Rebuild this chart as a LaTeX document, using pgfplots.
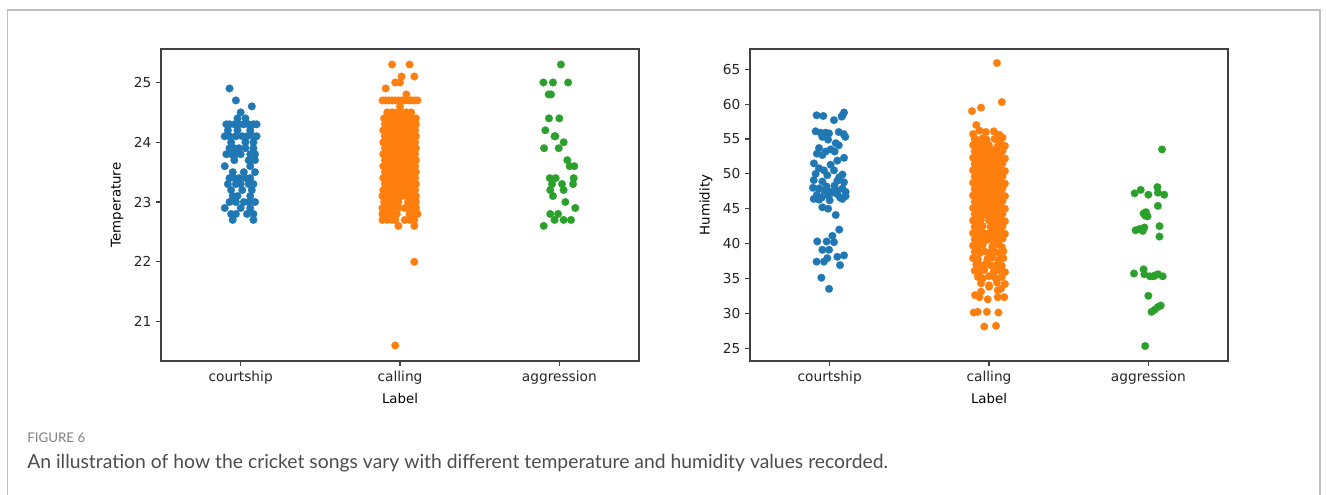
\documentclass[border=0pt]{standalone}
\usepackage{pgfplots}
\pgfplotsset{compat=1.18}
\usepackage{fontspec}
\setmainfont{DejaVu Sans}
\newfontfamily\capfont{Lato}
\definecolor{tabblue}{HTML}{1F77B4}
\definecolor{taborange}{HTML}{FF7F0E}
\definecolor{tabgreen}{HTML}{2CA02C}

\pgfplotsset{
  strip/.style={
    scale only axis, width=358.5pt, height=234pt, anchor=south west,
    xmin=-0.5, xmax=2.5,
    xtick={0,1,2}, xticklabels={courtship,calling,aggression},
    tick pos=left, tick align=outside, major tick length=3.7pt,
    axis line style={black!75, line width=0.8pt},
    every tick/.style={black!75, line width=0.8pt},
    tick label style={font=\fontsize{10.3}{12}\selectfont, text=black!85},
    label style={font=\fontsize{10.3}{12}\selectfont, text=black!85},
    /pgf/number format/assume math mode=true,
    xlabel={Label},
    every axis x label/.style={at={(axis description cs:0.5,-0.119)}, anchor=center},
    every axis y label/.style={at={(axis description cs:-0.092,0.5)}, anchor=center, rotate=90},
    clip=false,
  },
  dots/.style={only marks, mark=*, mark size=2.9pt, color=#1, mark options={line width=0.1pt}},
}

\begin{document}
\begin{tikzpicture}
\path[use as bounding box] (0,0) rectangle (994.5pt,371.25pt);
\draw[black!25, line width=0.9pt] (5.6pt,-2pt) -- (5.6pt,363.75pt) -- (990pt,363.75pt) -- (990pt,-2pt);

% ---------------- Temperature ----------------
\begin{axis}[strip, at={(120.75pt,100.5pt)},
  ymin=20.34, ymax=25.56, ytick={21,22,23,24,25}, ylabel={Temperature}]

% courtship
\addplot[dots=tabblue] coordinates {
 (-0.07,24.9) (-0.03,24.7) (0.07,24.6) (0.00,24.5) (-0.02,24.4) (0.03,24.4)
 (-0.09,24.3) (-0.07,24.3) (-0.04,24.3) (-0.01,24.3) (0.02,24.3) (0.05,24.3) (0.08,24.3) (0.10,24.3)
 (-0.08,24.2) (-0.02,24.2) (0.06,24.2)
 (-0.10,24.1) (-0.07,24.1) (-0.03,24.1) (0.01,24.1) (0.04,24.1) (0.08,24.1) (0.10,24.1)
 (-0.06,24.0) (0.03,24.0) (0.08,24.0)
 (-0.07,23.9) (-0.04,23.9) (-0.01,23.9) (0.03,23.9) (0.08,23.9)
 (-0.09,23.8) (-0.06,23.8) (-0.03,23.8) (0.00,23.8) (0.06,23.8) (0.09,23.8)
 (-0.04,23.7) (0.05,23.7) (0.09,23.7)
 (-0.10,23.6) (0.06,23.6)
 (-0.05,23.5) (0.02,23.5) (0.09,23.5)
 (-0.07,23.4) (-0.04,23.4) (-0.01,23.4) (0.03,23.4) (0.06,23.4)
 (-0.08,23.3) (-0.03,23.3) (0.00,23.3) (0.05,23.3) (0.08,23.3)
 (-0.06,23.2) (0.01,23.2) (0.07,23.2)
 (-0.05,23.1) (-0.02,23.1) (0.06,23.1)
 (-0.07,23.0) (-0.03,23.0) (0.02,23.0) (0.05,23.0) (0.09,23.0)
 (-0.10,22.9) (0.00,22.9) (0.06,22.9)
 (-0.06,22.8) (-0.03,22.8) (0.04,22.8) (0.08,22.8)
 (-0.05,22.7) (0.08,22.7)
};

% calling
\addplot[dots=taborange] coordinates {
 (0.95,25.3) (1.06,25.3) (1.01,25.1) (1.09,25.1) (0.97,25.0) (1.00,25.0) (0.91,24.9) (1.04,24.8)
 (0.89,24.7) (0.91,24.7) (0.93,24.7) (0.95,24.7) (0.97,24.7) (0.99,24.7) (1.01,24.7) (1.03,24.7) (1.05,24.7) (1.07,24.7) (1.09,24.7) (1.11,24.7)
 (1.00,24.6)
 (0.92,24.5) (0.95,24.5) (0.98,24.5) (1.01,24.5) (1.04,24.5) (1.07,24.5)
 (0.90,24.4) (0.93,24.4) (0.96,24.4) (0.99,24.4) (1.02,24.4) (1.05,24.4) (1.08,24.4) (1.10,24.4)
 (0.905,24.3) (0.93,24.3) (0.955,24.3) (0.98,24.3) (1.005,24.3) (1.03,24.3) (1.055,24.3) (1.08,24.3) (1.10,24.3)
 (0.895,24.2) (0.92,24.2) (0.945,24.2) (0.97,24.2) (0.995,24.2) (1.02,24.2) (1.045,24.2) (1.07,24.2) (1.095,24.2)
 (0.905,24.1) (0.93,24.1) (0.955,24.1) (0.98,24.1) (1.005,24.1) (1.03,24.1) (1.055,24.1) (1.08,24.1) (1.10,24.1)
 (0.895,24.0) (0.92,24.0) (0.945,24.0) (0.97,24.0) (0.995,24.0) (1.02,24.0) (1.045,24.0) (1.07,24.0) (1.095,24.0)
 (0.905,23.9) (0.93,23.9) (0.955,23.9) (0.98,23.9) (1.005,23.9) (1.03,23.9) (1.055,23.9) (1.08,23.9) (1.10,23.9)
 (0.895,23.8) (0.92,23.8) (0.945,23.8) (0.97,23.8) (0.995,23.8) (1.02,23.8) (1.045,23.8) (1.07,23.8) (1.095,23.8)
 (0.905,23.7) (0.93,23.7) (0.955,23.7) (0.98,23.7) (1.005,23.7) (1.03,23.7) (1.055,23.7) (1.08,23.7) (1.10,23.7)
 (0.895,23.6) (0.92,23.6) (0.945,23.6) (0.97,23.6) (0.995,23.6) (1.02,23.6) (1.045,23.6) (1.07,23.6) (1.095,23.6)
 (0.905,23.5) (0.93,23.5) (0.955,23.5) (0.98,23.5) (1.005,23.5) (1.03,23.5) (1.055,23.5) (1.08,23.5) (1.10,23.5)
 (0.895,23.4) (0.92,23.4) (0.945,23.4) (0.97,23.4) (0.995,23.4) (1.02,23.4) (1.045,23.4) (1.07,23.4) (1.095,23.4)
 (0.905,23.3) (0.93,23.3) (0.955,23.3) (0.98,23.3) (1.005,23.3) (1.03,23.3) (1.055,23.3) (1.08,23.3) (1.10,23.3)
 (0.895,23.2) (0.92,23.2) (0.945,23.2) (0.97,23.2) (0.995,23.2) (1.02,23.2) (1.045,23.2) (1.07,23.2) (1.095,23.2)
 (0.89,23.1) (0.92,23.1) (0.95,23.1) (0.98,23.1) (1.01,23.1) (1.04,23.1) (1.07,23.1) (1.10,23.1)
 (0.90,23.0) (0.93,23.0) (0.96,23.0) (0.99,23.0) (1.05,23.0) (1.08,23.0) (1.10,23.0)
 (0.89,22.9) (0.92,22.9) (0.95,22.9) (0.99,22.9) (1.03,22.9) (1.07,22.9) (1.10,22.9)
 (0.89,22.8) (0.91,22.8) (0.94,22.8) (0.98,22.8) (1.06,22.8) (1.09,22.8) (1.11,22.8)
 (0.89,22.7) (0.92,22.7) (0.95,22.7) (0.97,22.7) (1.03,22.7) (1.06,22.7) (1.09,22.7)
 (0.99,22.6) (1.09,22.6) (1.09,22.0) (0.97,20.6)
};

% aggression
\addplot[dots=tabgreen] coordinates {
 (2.01,25.3) (1.90,25.0) (1.96,25.0) (2.055,25.0) (1.933,24.8) (1.948,24.8)
 (1.935,24.4) (2.00,24.4) (1.912,24.2) (1.97,24.1) (1.975,24.1) (2.027,24.0)
 (1.904,23.9) (1.996,23.9) (2.05,23.7) (2.065,23.6) (2.094,23.6)
 (1.94,23.4) (1.977,23.4) (2.09,23.4) (1.954,23.3) (2.017,23.3) (2.086,23.3)
 (1.943,23.2) (2.027,23.2) (1.96,23.1) (2.038,23.0) (2.10,22.9)
 (1.943,22.8) (1.992,22.8) (1.97,22.7) (2.027,22.7) (2.073,22.7) (1.902,22.6)
};
\end{axis}

% ---------------- Humidity ----------------
\begin{axis}[strip, at={(562.5pt,100.5pt)},
  ymin=23.15, ymax=67.91, ytick={25,30,35,40,45,50,55,60,65}, ylabel={Humidity}]

% courtship
\addplot[dots=tabblue] coordinates {
 (-0.082,58.4) (-0.040,58.3) (0.027,57.7) (0.080,58.4) (0.090,58.8) (0.075,58.2)
 (-0.088,56.1) (-0.057,55.9) (-0.025,55.9) (-0.004,55.8) (0.057,56.0) (0.088,55.7) (0.098,55.3) (-0.046,55.3)
 (-0.010,54.9) (0.057,54.1) (0.038,54.4)
 (-0.067,53.7) (-0.025,53.2) (0.006,53.5) (0.031,53.2) (-0.080,52.9) (-0.046,52.7) (0.090,52.3)
 (0.048,51.9) (-0.099,51.5) (0.006,51.3) (-0.067,50.8) (-0.036,50.5) (0.027,50.5) (0.080,49.9)
 (-0.088,50.0) (-0.015,49.8) (0.060,49.5) (-0.100,49.1) (-0.046,48.9) (0.048,49.0) (0.090,48.8)
 (-0.105,48.0) (-0.067,47.9) (-0.036,47.6) (0.006,47.4) (0.048,47.6) (0.080,47.9) (0.100,47.4)
 (-0.100,46.4) (-0.067,46.3) (-0.010,46.9) (0.017,47.3) (0.048,47.1) (0.080,46.4) (0.100,46.8)
 (-0.080,47.0) (-0.020,48.2) (0.030,48.3) (0.065,46.6) (-0.050,46.6) (0.000,46.2)
 (-0.046,45.2) (-0.010,45.0) (0.038,44.1) (0.060,42.0) (0.017,41.1)
 (-0.078,40.3) (-0.019,40.3) (0.027,40.2) (-0.046,39.1) (-0.004,39.1)
 (0.048,38.1) (0.090,38.3) (-0.015,37.9) (-0.082,37.4) (-0.036,37.4) (0.065,36.9)
 (-0.052,35.1) (-0.004,33.5)
};

% calling
\addplot[dots=taborange] coordinates {
 (1.05,65.9) (1.08,60.3) (0.893,59.0) (0.95,59.5) (0.92,57.0)
 (0.94,56.2) (0.98,56.0) (1.03,56.1) (1.065,55.6) (0.90,55.7)
 (0.91,55.0) (0.935,54.8) (0.96,55.1) (0.985,54.9) (1.035,55.0) (1.06,54.7) (1.085,55.2)
 (0.90,54.1) (0.925,53.9) (0.95,54.2) (0.975,54.0) (1.00,54.1) (1.05,53.8) (1.075,54.2) (1.10,54.0)
 (0.91,53.2) (0.935,53.0) (0.96,53.3) (0.985,53.1) (1.01,53.2) (1.035,53.4) (1.06,53.0) (1.085,53.3)
 (0.90,52.3) (0.925,52.1) (0.95,52.4) (0.975,52.2) (1.00,52.3) (1.025,52.5) (1.05,52.1) (1.075,52.4) (1.10,52.2)
 (0.91,51.4) (0.935,51.2) (0.96,51.5) (0.985,51.3) (1.01,51.4) (1.035,51.6) (1.06,51.2) (1.085,51.5)
 (0.90,50.5) (0.925,50.3) (0.95,50.6) (0.975,50.4) (1.00,50.5) (1.025,50.7) (1.05,50.3) (1.075,50.6) (1.10,50.4)
 (0.91,49.6) (0.935,49.4) (0.96,49.7) (0.985,49.5) (1.01,49.6) (1.035,49.8) (1.06,49.4) (1.085,49.7)
 (0.90,48.7) (0.925,48.5) (0.95,48.8) (0.975,48.6) (1.00,48.7) (1.025,48.9) (1.05,48.5) (1.075,48.8) (1.10,48.6)
 (0.91,47.8) (0.935,47.6) (0.96,47.9) (0.985,47.7) (1.01,47.8) (1.035,48.0) (1.06,47.6) (1.085,47.9)
 (0.90,46.9) (0.925,46.7) (0.95,47.0) (0.975,46.8) (1.00,46.9) (1.025,47.1) (1.05,46.7) (1.075,47.0) (1.10,46.8)
 (0.91,46.0) (0.935,45.8) (0.96,46.1) (0.985,45.9) (1.01,46.0) (1.035,46.2) (1.06,45.8) (1.085,46.1)
 (0.90,45.1) (0.925,44.9) (0.95,45.2) (0.975,45.0) (1.00,45.1) (1.025,45.3) (1.05,44.9) (1.075,45.2) (1.10,45.0)
 (0.91,44.2) (0.935,44.0) (0.96,44.3) (0.985,44.1) (1.01,44.2) (1.035,44.4) (1.06,44.0) (1.085,44.3)
 (0.90,43.3) (0.925,43.1) (0.95,43.4) (1.00,43.3) (1.025,43.5) (1.05,43.1) (1.075,43.4) (1.10,43.2)
 (0.91,42.4) (0.935,42.2) (0.96,42.5) (1.01,42.4) (1.035,42.6) (1.06,42.2) (1.085,42.5)
 (0.90,41.5) (0.925,41.3) (0.95,41.6) (0.975,41.4) (1.00,41.5) (1.025,41.7) (1.05,41.3) (1.075,41.6) (1.10,41.4)
 (0.91,40.6) (0.935,40.4) (0.96,40.7) (0.985,40.5) (1.01,40.6) (1.035,40.8) (1.06,40.4) (1.085,40.7)
 (0.90,39.7) (0.93,39.5) (0.96,39.8) (1.02,39.6) (1.05,39.9) (1.08,39.5)
 (0.91,38.8) (0.94,38.6) (0.97,38.9) (1.00,38.7) (1.04,38.8) (1.07,38.6) (1.09,38.9)
 (0.90,37.9) (0.93,37.7) (0.99,37.8) (1.02,38.0) (1.06,37.7) (1.09,37.9)
 (0.92,37.0) (0.95,36.8) (0.98,37.1) (1.01,36.9) (1.05,37.0) (1.08,36.8)
 (0.91,36.1) (0.94,35.9) (0.97,36.2) (1.03,36.0) (1.06,36.2) (1.10,35.9)
 (0.93,35.2) (0.96,35.0) (1.00,35.3) (1.04,35.1) (1.08,35.2)
 (0.95,34.3) (1.00,34.0) (1.05,34.4) (1.10,34.2)
 (0.95,33.1) (1.00,33.8) (1.055,33.3) (1.075,33.5)
 (0.912,32.6) (0.94,32.3) (0.992,32.0) (1.055,32.3) (1.096,32.3)
 (0.904,30.1) (0.929,30.2) (0.987,30.2) (1.059,30.1)
 (0.97,28.1) (1.044,28.2)
};

% aggression
\addplot[dots=tabgreen] coordinates {
 (2.086,53.5) (1.914,47.2) (1.952,47.7) (2.000,47.0) (2.057,48.1) (2.060,47.3) (2.100,47.0)
 (2.060,45.4) (1.970,44.3) (1.985,44.5) (1.995,43.9) (1.980,44.0)
 (1.920,41.9) (1.945,42.1) (1.965,41.8) (1.975,42.3) (2.070,42.5) (2.070,41.0)
 (1.910,35.7) (1.970,36.3) (1.975,35.6) (2.010,35.3) (2.030,35.3) (2.060,35.6) (2.090,35.3) (2.040,35.4)
 (2.000,32.5) (2.020,30.2) (2.060,30.9) (2.078,31.1) (2.040,30.5) (1.980,25.3)
};
\end{axis}

% caption
\node[anchor=west, inner sep=0pt, text=black!50, font=\capfont\fontsize{10}{12}\selectfont] at (20.25pt,43pt) {FIGURE 6};
\node[anchor=west, inner sep=0pt, text=black!70, font=\capfont\fontsize{14.5}{17}\selectfont] at (20.25pt,24pt)
  {An illustration of how the cricket songs vary with different temperature and humidity values recorded.};
\end{tikzpicture}
\end{document}
